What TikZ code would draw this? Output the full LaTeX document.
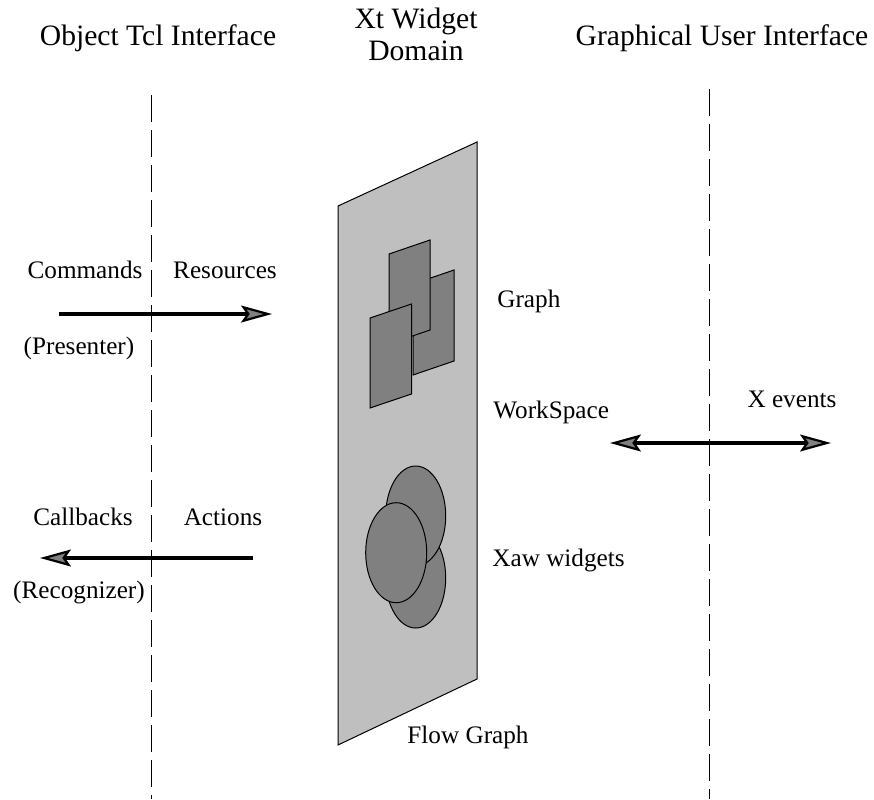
\documentclass[tikz,border=0pt]{standalone}
\usepackage{fontspec}
\setmainfont{Liberation Serif}
\usetikzlibrary{arrows.meta,calc}
\definecolor{panelgray}{gray}{0.75}
\definecolor{widgetgray}{gray}{0.5}
\tikzset{
  lbl/.style={font=\fontsize{12.6}{15}\selectfont,inner sep=0pt},
  ttl/.style={font=\fontsize{14.8}{16}\selectfont,inner sep=0pt,align=center},
  divider/.style={line width=0.5pt,dash pattern=on 13.5pt off 4pt},
  panel/.style={draw=black,line width=0.5pt,fill=panelgray},
  widget/.style={draw=black,line width=0.5pt,fill=widgetgray},
  xtip/.tip={Stealth[length=15.5pt,width=8.5pt,inset=3pt,fill=widgetgray,line width=1.1pt]},
  flow/.style={line width=2pt,-xtip},
  twoway/.style={line width=2pt,xtip-xtip}
}
\begin{document}
\begin{tikzpicture}[x=0.5pt,y=-0.5pt]
\useasboundingbox (0,0) rectangle (874,799);
\coordinate (tcltop) at (151,95);
\coordinate (tclbot) at (151,799);
\coordinate (guitop) at (709,89);
\coordinate (guibot) at (709,799);
\draw[divider] (tcltop) -- (tclbot);
\draw[divider] (guitop) -- (guibot);
\node[ttl,anchor=base] (tcl) at (158,45) {Object Tcl Interface};
\node[ttl,anchor=base] (xt) at (416,60) {Xt Widget\\Domain};
\node[ttl,anchor=base] (gui) at (722,45) {Graphical User Interface};
% the widget plane
\draw[panel] (338,206) coordinate(plane) -- (477,142) -- (477,679) -- (338,745) -- cycle;
\draw[widget] (413,284) -- (454,270) -- (454,361) -- (413,375) -- cycle;
\draw[widget] (389,254) -- (430,240) -- (430,330) -- (389,344) -- cycle;
\draw[widget] (370,318) -- (411.5,304) -- (411.5,394) -- (370,408) -- cycle;
\draw[widget] (415.7,578) ellipse [x radius=30,y radius=50];
\draw[widget] (415.7,516) ellipse [x radius=30,y radius=50];
\draw[widget] (396.2,552.7) ellipse [x radius=30.5,y radius=50];
\node[lbl,anchor=base west] (graph) at (497,307) {Graph};
\node[lbl,anchor=base west] (workspace) at (493,418) {WorkSpace};
\node[lbl,anchor=base west] (xaw) at (492,566) {Xaw widgets};
\node[lbl,anchor=base] (flowgraph) at (468,743) {Flow Graph};
% presenter side
\node[lbl,anchor=base] (cmd) at (85,278) {Commands};
\node[lbl,anchor=base] (res) at (225,278) {Resources};
\node[lbl,anchor=base] (pres) at (79,354) {(Presenter)};
\coordinate (cmdfrom) at (59,314);
\coordinate (cmdto) at (272,314);
\draw[flow] (cmdfrom) -- (cmdto);
% recognizer side
\node[lbl,anchor=base] (cb) at (83,525) {Callbacks};
\node[lbl,anchor=base] (act) at (223,525) {Actions};
\node[lbl,anchor=base] (recog) at (79,598) {(Recognizer)};
\coordinate (actfrom) at (253,558);
\coordinate (actto) at (40,558);
\draw[flow] (actfrom) -- (actto);
% user side
\node[lbl,anchor=base] (xev) at (792,407) {X events};
\coordinate (evleft) at (610,443);
\coordinate (evright) at (831,443);
\draw[twoway] (evleft) -- (evright);
\end{tikzpicture}
\end{document}
